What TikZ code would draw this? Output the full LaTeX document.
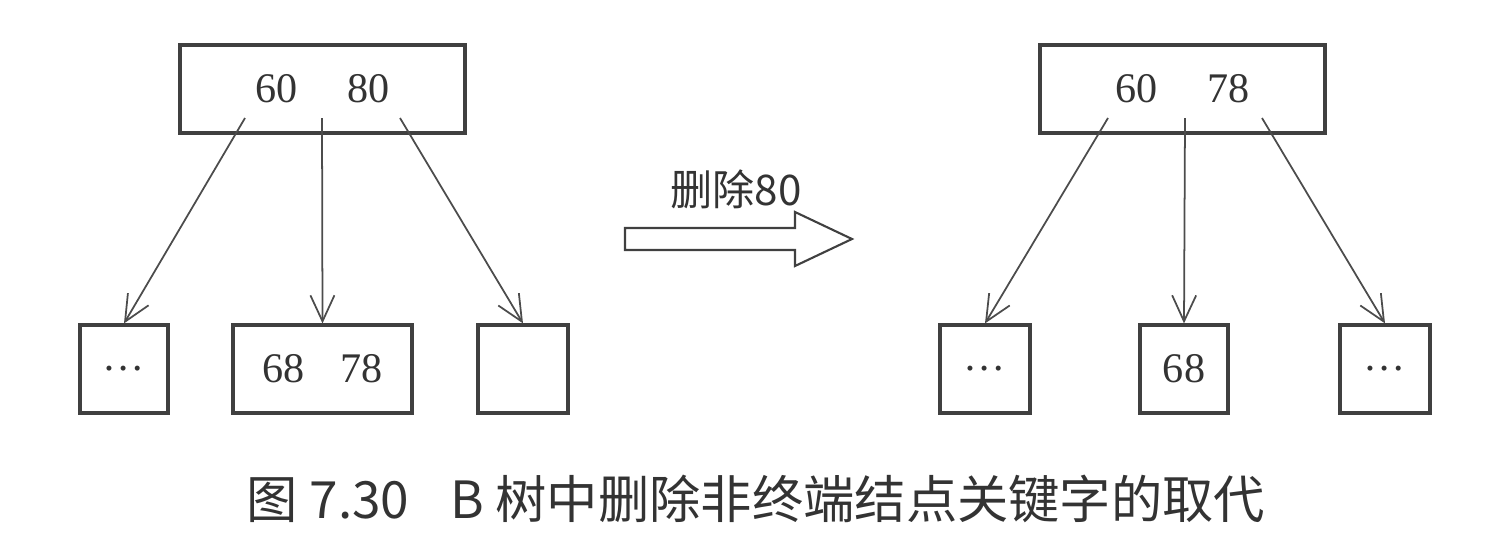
\documentclass[tikz,border=0pt]{standalone}
\usepackage{fontspec}
\setmainfont{Liberation Serif}
\newfontfamily\cjk{Noto Sans CJK SC}
\usetikzlibrary{arrows.meta,positioning}

\begin{document}
\begin{tikzpicture}[>={Straight Barb[length=2.6mm,width=2.4mm]},
  keybox/.style={draw=black!75, line width=0.9pt, minimum height=8.8mm, inner sep=0pt, font=\fontsize{12}{14}\selectfont, text=black!80},
  link/.style={->, draw=black!70, line width=0.5pt}]
  \useasboundingbox (0,0) rectangle (15.07,5.36);
  % left tree
  \node[keybox, minimum width=28.5mm] (L) at (3.225,4.47) {60\hspace{14pt}80};
  \node[keybox, minimum width=8.8mm] (L1) at (1.24,1.67) {\ldots};
  \node[keybox, minimum width=17.9mm] (L2) at (3.225,1.67) {68\hspace{10pt}78};
  \node[keybox, minimum width=9mm] (L3) at (5.23,1.67) {};
  \coordinate (la) at (2.45,4.18);
  \coordinate (lb) at (3.22,4.18);
  \coordinate (lc) at (4.00,4.18);
  \draw[link] (la) -- (L1.north);
  \draw[link] (lb) -- (L2.north);
  \draw[link] (lc) -- (L3.north);
  % transform arrow
  \draw[draw=black!75, line width=0.6pt] (6.25,3.08) -- (7.95,3.08) -- (7.95,3.24) -- (8.52,2.97)
    -- (7.95,2.70) -- (7.95,2.86) -- (6.25,2.86) -- cycle;
  \node[font=\cjk\fontsize{12}{14}\selectfont, text=black!80] (op) at (7.36,3.47) {删除80};
  % right tree
  \node[keybox, minimum width=28.5mm] (R) at (11.825,4.47) {60\hspace{14pt}78};
  \node[keybox, minimum width=9mm] (R1) at (9.85,1.67) {\ldots};
  \node[keybox, minimum width=8.8mm] (R2) at (11.84,1.67) {68};
  \node[keybox, minimum width=9mm] (R3) at (13.85,1.67) {\ldots};
  \coordinate (ra) at (11.08,4.18);
  \coordinate (rb) at (11.85,4.18);
  \coordinate (rc) at (12.62,4.18);
  \draw[link] (ra) -- (R1.north);
  \draw[link] (rb) -- (R2.north);
  \draw[link] (rc) -- (R3.north);
  % caption
  \node[font=\cjk\fontsize{14.6}{17}\selectfont, text=black!80] (cap) at (7.56,0.37) {图 7.30\hspace{0.8em}B 树中删除非终端结点关键字的取代};
\end{tikzpicture}
\end{document}
